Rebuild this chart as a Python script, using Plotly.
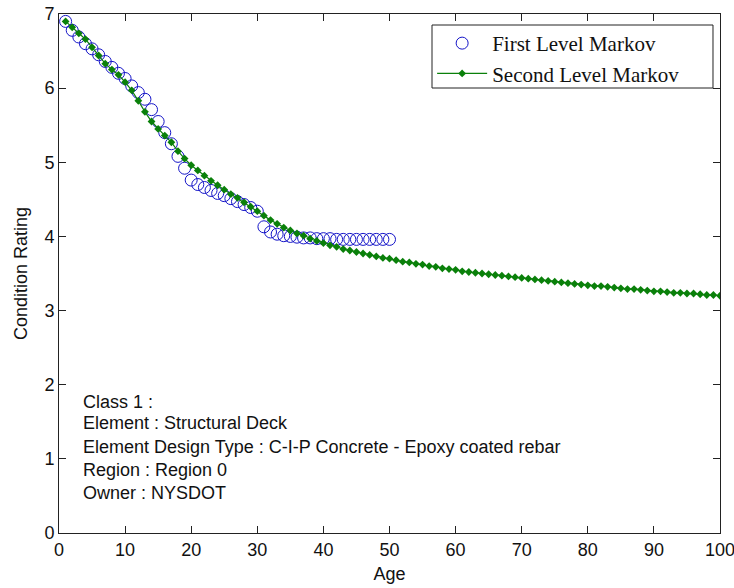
import plotly.graph_objects as go

# ---- data ----
age_first = list(range(1, 51))
cr_first = [6.90, 6.78, 6.69, 6.60, 6.53, 6.45, 6.36, 6.28, 6.20, 6.13,
            6.03, 5.94, 5.85, 5.71, 5.55, 5.40, 5.25, 5.08, 4.92, 4.76,
            4.70, 4.66, 4.62, 4.58, 4.55, 4.51, 4.47, 4.43, 4.39, 4.34,
            4.13, 4.06, 4.03, 4.01, 4.00, 3.99, 3.98, 3.98, 3.97, 3.97,
            3.97, 3.96, 3.96, 3.96, 3.96, 3.96, 3.96, 3.96, 3.96, 3.96]

age_second = list(range(1, 101))
cr_second = [6.90, 6.82, 6.74, 6.66, 6.55, 6.44, 6.33, 6.25, 6.18, 6.08,
             5.97, 5.83, 5.68, 5.55, 5.45, 5.36, 5.27, 5.15, 5.05, 4.96,
             4.89, 4.82, 4.75, 4.69, 4.63, 4.57, 4.52, 4.46, 4.40, 4.34,
             4.28, 4.22, 4.17, 4.12, 4.08, 4.04, 4.01, 3.97, 3.94, 3.91,
             3.88, 3.86, 3.83, 3.81, 3.79, 3.77, 3.75, 3.73, 3.71, 3.70,
             3.68, 3.66, 3.65, 3.63, 3.62, 3.60, 3.59, 3.57, 3.56, 3.55,
             3.53, 3.52, 3.51, 3.50, 3.49, 3.48, 3.47, 3.46, 3.45, 3.44,
             3.43, 3.42, 3.41, 3.40, 3.39, 3.38, 3.37, 3.36, 3.35, 3.34,
             3.33, 3.33, 3.32, 3.31, 3.30, 3.29, 3.29, 3.28, 3.27, 3.26,
             3.26, 3.25, 3.24, 3.24, 3.23, 3.23, 3.22, 3.21, 3.21, 3.20]

info_lines = ["Class 1 :",
              "Element : Structural Deck",
              "Element Design Type : C-I-P Concrete - Epoxy coated rebar",
              "Region : Region 0",
              "Owner : NYSDOT"]
info_y = [1.77, 1.48, 1.16, 0.85, 0.54]

x_ticks = [0, 10, 20, 30, 40, 50, 60, 70, 80, 90, 100]
y_ticks = [0, 1, 2, 3, 4, 5, 6, 7]

SANS = "Liberation Sans, Arial, sans-serif"
SERIF = "Liberation Serif, Times New Roman, serif"

fig = go.Figure()
fig.add_trace(go.Scatter(
    x=age_first, y=cr_first, mode="markers", name="First Level Markov",
    legendgroup="a",
    marker=dict(symbol="circle-open", size=12, color="#1414c8",
                line=dict(width=1, color="#1414c8")),
))
fig.add_trace(go.Scatter(
    x=age_second, y=cr_second, mode="lines+markers", name="Second Level Markov",
    legendgroup="b",
    line=dict(color="#0a800a", width=1.2),
    marker=dict(symbol="diamond", size=6, color="#0a800a"),
))

for txt, yy in zip(info_lines, info_y):
    fig.add_annotation(x=3.4, y=yy, xref="x", yref="y", text=txt,
                       showarrow=False, xanchor="left", yanchor="middle",
                       font=dict(family=SANS, size=18, color="#111"))

# legend frame
fig.add_shape(type="rect", xref="paper", yref="paper",
              x0=0.5643, x1=0.9894, y0=0.8574, y1=0.9788,
              line=dict(color="#222", width=1), fillcolor="white", layer="above")

axis_common = dict(showline=True, linecolor="#222", linewidth=1, mirror="ticks",
                   ticks="inside", ticklen=7, tickcolor="#222", showgrid=False,
                   zeroline=False, ticklabeloverflow="allow", automargin=False,
                   tickfont=dict(family=SANS, size=18, color="#111"))

fig.update_xaxes(range=[0, 100], tickvals=x_ticks,
                 title=dict(text="Age", font=dict(family=SANS, size=18, color="#111"), standoff=8),
                 **axis_common)
fig.update_yaxes(range=[0, 7], tickvals=y_ticks,
                 title=dict(text="Condition Rating", font=dict(family=SANS, size=18, color="#111"), standoff=12),
                 **axis_common)

fig.update_layout(
    width=734, height=588,
    margin=dict(l=59, r=14, t=14, b=55, autoexpand=False),
    plot_bgcolor="white", paper_bgcolor="white",
    legend=dict(x=0.5645, y=0.9827, xanchor="left", yanchor="top",
                borderwidth=0, bgcolor="rgba(0,0,0,0)",
                font=dict(family=SERIF, size=21, color="#111"),
                itemwidth=50, tracegroupgap=0),
    showlegend=True,
)

fig.write_html("out.html")
